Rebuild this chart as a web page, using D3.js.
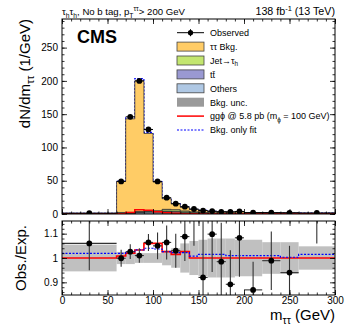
<!DOCTYPE html>
<html>
<head>
<meta charset="utf-8">
<script src="https://cdn.jsdelivr.net/npm/d3@7"></script>
<style>
body { margin: 0; background: #fff; }
svg { display: block; font-family: "Liberation Sans", Arial, sans-serif; }
</style>
</head>
<body>
<svg width="349" height="335"></svg>
<script>
// bin edges (GeV) and per-bin values
const edges = [0, 60, 70, 80, 90, 100, 110, 120, 130, 140, 150, 160, 170, 180, 190, 200, 220, 240, 260, 300];
const observed = [1.2, 49, 146, 200, 127, 49, 24.5, 15.5, 11, 7.5, 5.2, 4.2, 3.3, 3.0, 3.8, 2.0, 2.0, 1.8, 1.5];
const tautau = [0.7, 46.7, 140.6, 196.2, 116.4, 43.1, 16, 8.7, 5.5, 3.6, 3.1, 2.1, 1.7, 1.9, 2.3, 1.35, 1.35, 1.3, 1.0];
const jetFakes = [0.2, 1.5, 1.0, 0.8, 1.0, 1.2, 2.5, 2.5, 1.8, 1.2, 0.9, 0.7, 0.6, 0.5, 0.4, 0.3, 0.2, 0.15, 0.1];
const ttbar = [0.1, 0.3, 0.4, 0.5, 0.6, 0.7, 1.0, 1.0, 0.8, 0.6, 0.5, 0.4, 0.4, 0.3, 0.3, 0.25, 0.2, 0.15, 0.1];
const others = [0.1, 0.5, 1.0, 2.5, 3.0, 3.0, 3.5, 3.0, 2.0, 1.4, 0.9, 0.7, 0.6, 0.5, 0.4, 0.3, 0.25, 0.2, 0.1];
const signal = [0, 0.5, 2.3, 6.2, 5.5, 3.5, 2.0, 1.0, 0.5, 0.2, 0, 0, 0, 0, 0, 0, 0, 0, 0];
const bkgOnly = [1.15, 49.5, 144.5, 203.5, 122.5, 48.5, 23.3, 15.2, 10.2, 6.8, 5.4, 3.9, 3.3, 3.2, 3.4, 2.2, 2.0, 1.8, 1.3];

const ratioObs = [1.06, 0.999, 1.026, 1.01, 1.064, 1.05, 1.064, 1.03, 1.088, 1.25, 0.92, 1.098, 0.985, 0.892, 1.083, 0.869, 0.989, 0.94, 1.25];
const ratioErr = [0.11, 0.035, 0.03, 0.03, 0.035, 0.055, 0.07, 0.07, 0.1, 0.2, 0.23, 0.155, 0.16, 0.14, 0.16, 0.116, 0.12, 0.11, 0.19];
const bandHalf = [0.055, 0.025, 0.025, 0.02, 0.02, 0.02, 0.03, 0.04, 0.06, 0.07, 0.075, 0.08, 0.08, 0.08, 0.075, 0.075, 0.065, 0.065, 0.048];
const ratioSig = [1.0, 1.008, 1.02, 1.033, 1.06, 1.06, 1.026, 1.015, 1.026, 1.0, 1.0, 1.0, 1.0, 1.0, 1.0, 1.0, 1.0, 1.0, 1.0];
const ratioBkgOnly = [1.019, 1.019, 1.026, 1.033, 1.04, 1.037, 1.026, 1.022, 1.022, 1.008, 1.015, 1.015, 1.015, 1.01, 1.01, 1.01, 1.01, 1.003, 1.015];

const xTicks = [0, 50, 100, 150, 200, 250, 300];
const yTicksTop = [0, 50, 100, 150, 200, 250];
const yTicksRatio = [0.9, 1, 1.1];

const colors = { tautau: '#ffcc66', jet: '#c3e66f', ttbar: '#9a99d2', others: '#afc8e4' };

const svg = d3.select('svg');

const x = d3.scaleLinear().domain([0, 300]).range([62, 335]);
const yTop = d3.scaleLinear().domain([0, 293]).range([214, 19]);
const yR = d3.scaleLinear().domain([0.848, 1.152]).range([295, 221]);

const nb = observed.length;
const mids = d3.range(nb).map(i => (edges[i] + edges[i + 1]) / 2);

// clip paths
const defs = svg.append('defs');
defs.append('clipPath').attr('id', 'clipTop').append('rect')
	.attr('x', 62).attr('y', 19).attr('width', 273).attr('height', 195);
defs.append('clipPath').attr('id', 'clipR').append('rect')
	.attr('x', 62).attr('y', 221).attr('width', 273).attr('height', 74);

function stepPts(vals) {
	return edges.map((e, i) => [e, vals[Math.min(i, vals.length - 1)]]);
}

// ---- top panel ----
const mainG = svg.append('g').attr('clip-path', 'url(#clipTop)');

const line = (ys) => d3.line().curve(d3.curveStepAfter).x(d => x(d[0])).y(d => ys(d[1]));

// bkg-only fit drawn under the stack so only the part above it shows
mainG.append('path')
	.attr('d', line(yTop)(stepPts(bkgOnly)))
	.attr('fill', 'none')
	.attr('stroke', '#0000ff')
	.attr('stroke-width', 1.2)
	.attr('stroke-dasharray', '2,1.5');

const stackRows = edges.map((e, i) => {
	const k = Math.min(i, nb - 1);
	return { e: e, others: others[k], ttbar: ttbar[k], jet: jetFakes[k], tautau: tautau[k] };
});
const layers = d3.stack().keys(['others', 'ttbar', 'jet', 'tautau'])(stackRows);

const area = d3.area()
	.curve(d3.curveStepAfter)
	.x(d => x(d.data.e))
	.y0(d => yTop(d[0]))
	.y1(d => yTop(d[1]));

mainG.selectAll('path.layer')
	.data(layers)
	.join('path')
	.attr('class', 'layer')
	.attr('d', area)
	.attr('fill', d => colors[d.key])
	.attr('stroke', '#333')
	.attr('stroke-width', 0.8);

mainG.append('path')
	.attr('d', line(yTop)(stepPts(signal)))
	.attr('fill', 'none')
	.attr('stroke', '#ff0000')
	.attr('stroke-width', 1.5);

mainG.selectAll('line.hbar')
	.data(d3.range(nb))
	.join('line')
	.attr('x1', i => x(edges[i])).attr('x2', i => x(edges[i + 1]))
	.attr('y1', i => yTop(observed[i])).attr('y2', i => yTop(observed[i]))
	.attr('stroke', '#000').attr('stroke-width', 1);

mainG.selectAll('circle')
	.data(d3.range(nb))
	.join('circle')
	.attr('cx', i => x(mids[i]))
	.attr('cy', i => yTop(observed[i]))
	.attr('r', 2.9)
	.attr('fill', '#000');

// ---- ratio panel ----
const rat = svg.append('g').attr('clip-path', 'url(#clipR)');

rat.selectAll('rect.band')
	.data(d3.range(nb))
	.join('rect')
	.attr('x', i => x(edges[i]))
	.attr('width', i => x(edges[i + 1]) - x(edges[i]))
	.attr('y', i => yR(1 + bandHalf[i]))
	.attr('height', i => yR(1 - bandHalf[i]) - yR(1 + bandHalf[i]))
	.attr('fill', '#c0c0c0');

rat.append('path')
	.attr('d', line(yR)(stepPts(ratioSig)))
	.attr('fill', 'none')
	.attr('stroke', '#ff0000')
	.attr('stroke-width', 1.6);

rat.append('path')
	.attr('d', line(yR)(stepPts(ratioBkgOnly)))
	.attr('fill', 'none')
	.attr('stroke', '#0000ff')
	.attr('stroke-width', 1.2)
	.attr('stroke-dasharray', '2,1.5');

rat.selectAll('line.vbar')
	.data(d3.range(nb))
	.join('line')
	.attr('x1', i => x(mids[i])).attr('x2', i => x(mids[i]))
	.attr('y1', i => yR(ratioObs[i] + ratioErr[i]))
	.attr('y2', i => yR(ratioObs[i] - ratioErr[i]))
	.attr('stroke', '#333').attr('stroke-width', 1.1);

rat.selectAll('line.hbar')
	.data(d3.range(nb))
	.join('line')
	.attr('x1', i => x(edges[i])).attr('x2', i => x(edges[i + 1]))
	.attr('y1', i => yR(ratioObs[i])).attr('y2', i => yR(ratioObs[i]))
	.attr('stroke', '#333').attr('stroke-width', 1.1);

rat.selectAll('circle')
	.data(d3.range(nb))
	.join('circle')
	.attr('cx', i => x(mids[i]))
	.attr('cy', i => yR(ratioObs[i]))
	.attr('r', 2.9)
	.attr('fill', '#000');

// ---- axes (inside ticks, all four sides) ----
function ticks(yScale, yMajor, yMinor, y0, y1, xLabels) {
	const g = svg.append('g').attr('font-size', 10).attr('fill', '#000');
	const xMinor = d3.range(0, 301, 10);
	const kinds = [[xMinor, 2.5], [xTicks, 5]];
	kinds.forEach(([vals, len]) => {
		g.append('g').attr('transform', `translate(0,${y1})`)
			.call(d3.axisBottom(x).tickValues(vals).tickSize(-len).tickFormat(''));
		g.append('g').attr('transform', `translate(0,${y0})`)
			.call(d3.axisTop(x).tickValues(vals).tickSize(-len).tickFormat(''));
	});
	[[yMinor, 2.5], [yMajor, 5]].forEach(([vals, len]) => {
		g.append('g').attr('transform', 'translate(62,0)')
			.call(d3.axisLeft(yScale).tickValues(vals).tickSize(-len).tickFormat(''));
		g.append('g').attr('transform', 'translate(335,0)')
			.call(d3.axisRight(yScale).tickValues(vals).tickSize(-len).tickFormat(''));
	});
	g.append('g').attr('transform', 'translate(62,0)')
		.call(d3.axisLeft(yScale).tickValues(yMajor).tickSize(0).tickPadding(4).tickFormat(d3.format('~g')));
	if (xLabels) {
		g.append('g').attr('transform', `translate(0,${y1})`)
			.call(d3.axisBottom(x).tickValues(xTicks).tickSize(0).tickPadding(2));
	}
	g.selectAll('.domain').remove();
	g.selectAll('.tick line').attr('stroke', '#000').attr('stroke-width', 0.8);
	g.selectAll('.tick text').attr('font-size', 10).attr('font-family', '"Liberation Sans", Arial, sans-serif').attr('fill', '#000');
	svg.append('rect').attr('x', 62).attr('y', y0).attr('width', 273).attr('height', y1 - y0)
		.attr('fill', 'none').attr('stroke', '#000').attr('stroke-width', 1);
}
ticks(yTop, yTicksTop, d3.range(0, 293, 10), 19, 214, false);
ticks(yR, yTicksRatio, d3.range(0.86, 1.15, 0.02), 221, 295, true);

// ---- rich text helper ----
function rich(t, parts, fs) {
	let shift = 0;
	parts.forEach(([s, k]) => {
		const ts = t.append('tspan').text(s);
		let target = 0;
		if (k === 'sub') { ts.attr('font-size', fs * 0.7); target = fs * 0.28; }
		if (k === 'sup') { ts.attr('font-size', fs * 0.7); target = -fs * 0.38; }
		if (target !== shift) { ts.attr('dy', target - shift); shift = target; }
	});
}

// header
const h1 = svg.append('text').attr('x', 62).attr('y', 15).attr('font-size', 9.6);
rich(h1, [['τ'], ['h', 'sub'], ['τ'], ['h', 'sub'], [', No b tag, p'], ['T', 'sub'], ['ττ', 'sup'], ['> 200 GeV']], 9.6);
const h2 = svg.append('text').attr('x', 335).attr('y', 15).attr('font-size', 10.7).attr('text-anchor', 'end');
rich(h2, [['138 fb'], ['-1', 'sup'], [' (13 TeV)']], 10.7);

svg.append('text').attr('x', 77).attr('y', 43).attr('font-size', 18).attr('font-weight', 'bold').text('CMS');

// axis titles
const yt = svg.append('text').attr('transform', 'translate(30,19) rotate(-90)')
	.attr('text-anchor', 'end').attr('font-size', 15);
rich(yt, [['dN/dm'], ['ττ', 'sub'], [' (1/GeV)']], 15);
svg.append('text').attr('transform', 'translate(26,258) rotate(-90)')
	.attr('text-anchor', 'middle').attr('font-size', 15).text('Obs./Exp.');
const xt = svg.append('text').attr('x', 335).attr('y', 320).attr('text-anchor', 'end').attr('font-size', 15);
rich(xt, [['m'], ['ττ', 'sub'], [' (GeV)']], 15);

// ---- legend ----
const legendItems = [
	{ kind: 'obs', parts: [['Observed']] },
	{ kind: 'box', fill: colors.tautau, parts: [['ττ Bkg.']] },
	{ kind: 'box', fill: colors.jet, parts: [['Jet→τ'], ['h', 'sub']] },
	{ kind: 'box', fill: colors.ttbar, parts: [['tt\u0304']] },
	{ kind: 'box', fill: colors.others, parts: [['Others']] },
	{ kind: 'unc', fill: '#9a9a9a', parts: [['Bkg. unc.']] },
	{ kind: 'sig', parts: [['gg\u03d5 @ 5.8 pb (m'], ['\u03d5', 'sub'], [' = 100 GeV)']] },
	{ kind: 'bonly', parts: [['Bkg. only fit']] }
];
const lgFs = 9;
const lg = svg.append('g');
legendItems.forEach((d, i) => {
	const cy = 32.7 + i * 13.9;
	const row = lg.append('g');
	if (d.kind === 'obs') {
		row.append('line').attr('x1', 177).attr('x2', 204).attr('y1', cy).attr('y2', cy).attr('stroke', '#000');
		row.append('line').attr('x1', 190.5).attr('x2', 190.5).attr('y1', cy - 3.5).attr('y2', cy + 3.5).attr('stroke', '#000');
		row.append('circle').attr('cx', 190.5).attr('cy', cy).attr('r', 2.6).attr('fill', '#000');
	} else if (d.kind === 'box') {
		row.append('rect').attr('x', 177).attr('y', cy - 4.5).attr('width', 27).attr('height', 9)
			.attr('fill', d.fill).attr('stroke', '#444').attr('stroke-width', 0.8);
	} else if (d.kind === 'unc') {
		row.append('rect').attr('x', 177).attr('y', cy - 4.5).attr('width', 27).attr('height', 9).attr('fill', d.fill);
	} else if (d.kind === 'sig') {
		row.append('line').attr('x1', 177).attr('x2', 204).attr('y1', cy).attr('y2', cy)
			.attr('stroke', '#ff0000').attr('stroke-width', 1.5);
	} else {
		row.append('line').attr('x1', 177).attr('x2', 204).attr('y1', cy).attr('y2', cy)
			.attr('stroke', '#0000ff').attr('stroke-width', 1.2).attr('stroke-dasharray', '2,1.5');
	}
	const t = row.append('text').attr('x', 210).attr('y', cy + 3.3).attr('font-size', lgFs);
	rich(t, d.parts, lgFs);
});
</script>
</body>
</html>
